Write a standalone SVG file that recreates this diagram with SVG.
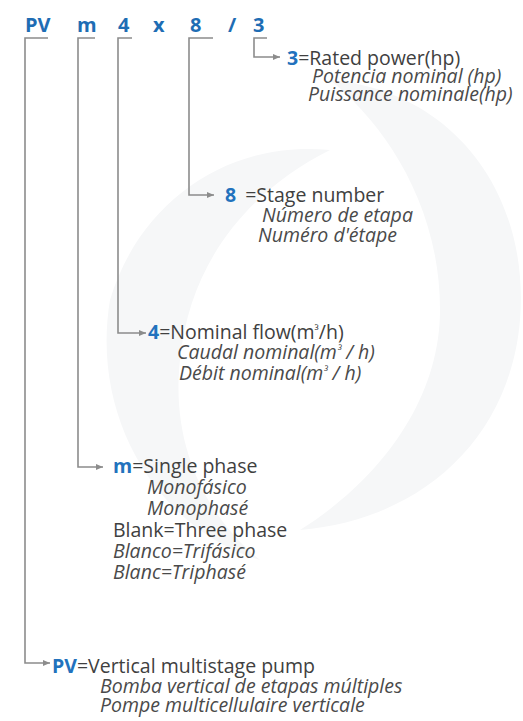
<svg xmlns="http://www.w3.org/2000/svg" width="523" height="721" viewBox="0 0 523 721">
<style>
text{font-family:"Open Sans","Noto Sans","Liberation Sans",sans-serif;font-size:19.5px;fill:#404040}
.hd{font-weight:bold;font-size:20px;fill:#1e6db4}
.k{font-weight:bold;fill:#2272bd}
.i{font-style:italic;fill:#4a4a4a}
.sup{font-size:12px}
.ln{fill:none;stroke:#8c8c8c;stroke-width:1.6}
.wm{fill:#f6f7f8}
</style>
<defs>
<marker id="ah" markerUnits="userSpaceOnUse" markerWidth="8" markerHeight="6" refX="7" refY="3" orient="auto">
<path d="M0,0 L7,3 L0,6 Z" fill="#8c8c8c"/>
</marker>
</defs>
<rect width="523" height="721" fill="#ffffff"/>
<g id="watermark">
<path class="wm" d="M330,80 C450,90 530,190 520,320 C510,440 420,520 300,530 C380,480 440,400 440,310 C440,200 380,120 330,80 Z"/>
<path class="wm" d="M110,300 C140,200 230,140 330,150 C250,190 190,260 180,360 C170,450 210,520 260,560 C160,530 90,420 110,300 Z"/>
</g>
<g id="code">
<text class="hd" x="25" y="32">PV</text>
<text class="hd" x="77" y="32">m</text>
<text class="hd" x="118" y="32">4</text>
<text class="hd" x="153" y="32">x</text>
<text class="hd" x="190" y="32">8</text>
<text class="hd" x="228" y="32">/</text>
<text class="hd" x="253" y="32">3</text>
</g>
<g id="connectors">
<path class="ln" d="M48,38 H25 V663 H50" marker-end="url(#ah)"/>
<path class="ln" d="M95,38 H78 V467 H103" marker-end="url(#ah)"/>
<path class="ln" d="M132,38 H118 V333 H146" marker-end="url(#ah)"/>
<path class="ln" d="M213,38 H189 V195 H214" marker-end="url(#ah)"/>
<path class="ln" d="M267,38 H254 V57 H280" marker-end="url(#ah)"/>
</g>
<g id="n-power">
<text x="287" y="65"><tspan class="k">3</tspan>=Rated power(hp)</text>
<text class="i" x="312" y="83">Potencia nominal (hp)</text>
<text class="i" x="308" y="101">Puissance nominale(hp)</text>
</g>
<g id="n-stage">
<text x="225" y="202"><tspan class="k">8</tspan><tspan dx="4"> =Stage number</tspan></text>
<text class="i" x="262" y="222">Número de etapa</text>
<text class="i" x="258" y="242">Numéro d'étape</text>
</g>
<g id="n-flow">
<text x="148" y="339"><tspan class="k">4</tspan>=Nominal flow(m<tspan class="sup" dy="-4">³</tspan><tspan dy="4">/h)</tspan></text>
<text class="i" x="177" y="359">Caudal nominal(m<tspan class="sup" dy="-4">³</tspan><tspan dy="4"> / h)</tspan></text>
<text class="i" x="179" y="380">Débit nominal(m<tspan class="sup" dy="-4">³</tspan><tspan dy="4"> / h)</tspan></text>
</g>
<g id="n-phase">
<text x="113" y="473"><tspan class="k">m</tspan>=Single phase</text>
<text class="i" x="147" y="494">Monofásico</text>
<text class="i" x="147" y="515">Monophasé</text>
<text x="113" y="537">Blank=Three phase</text>
<text class="i" x="113" y="558">Blanco=Trifásico</text>
<text class="i" x="113" y="579">Blanc=Triphasé</text>
</g>
<g id="n-pump">
<text x="52" y="673"><tspan class="k">PV</tspan>=Vertical multistage pump</text>
<text class="i" x="100" y="693">Bomba vertical de etapas múltiples</text>
<text class="i" x="100" y="712">Pompe multicellulaire verticale</text>
</g>
</svg>
